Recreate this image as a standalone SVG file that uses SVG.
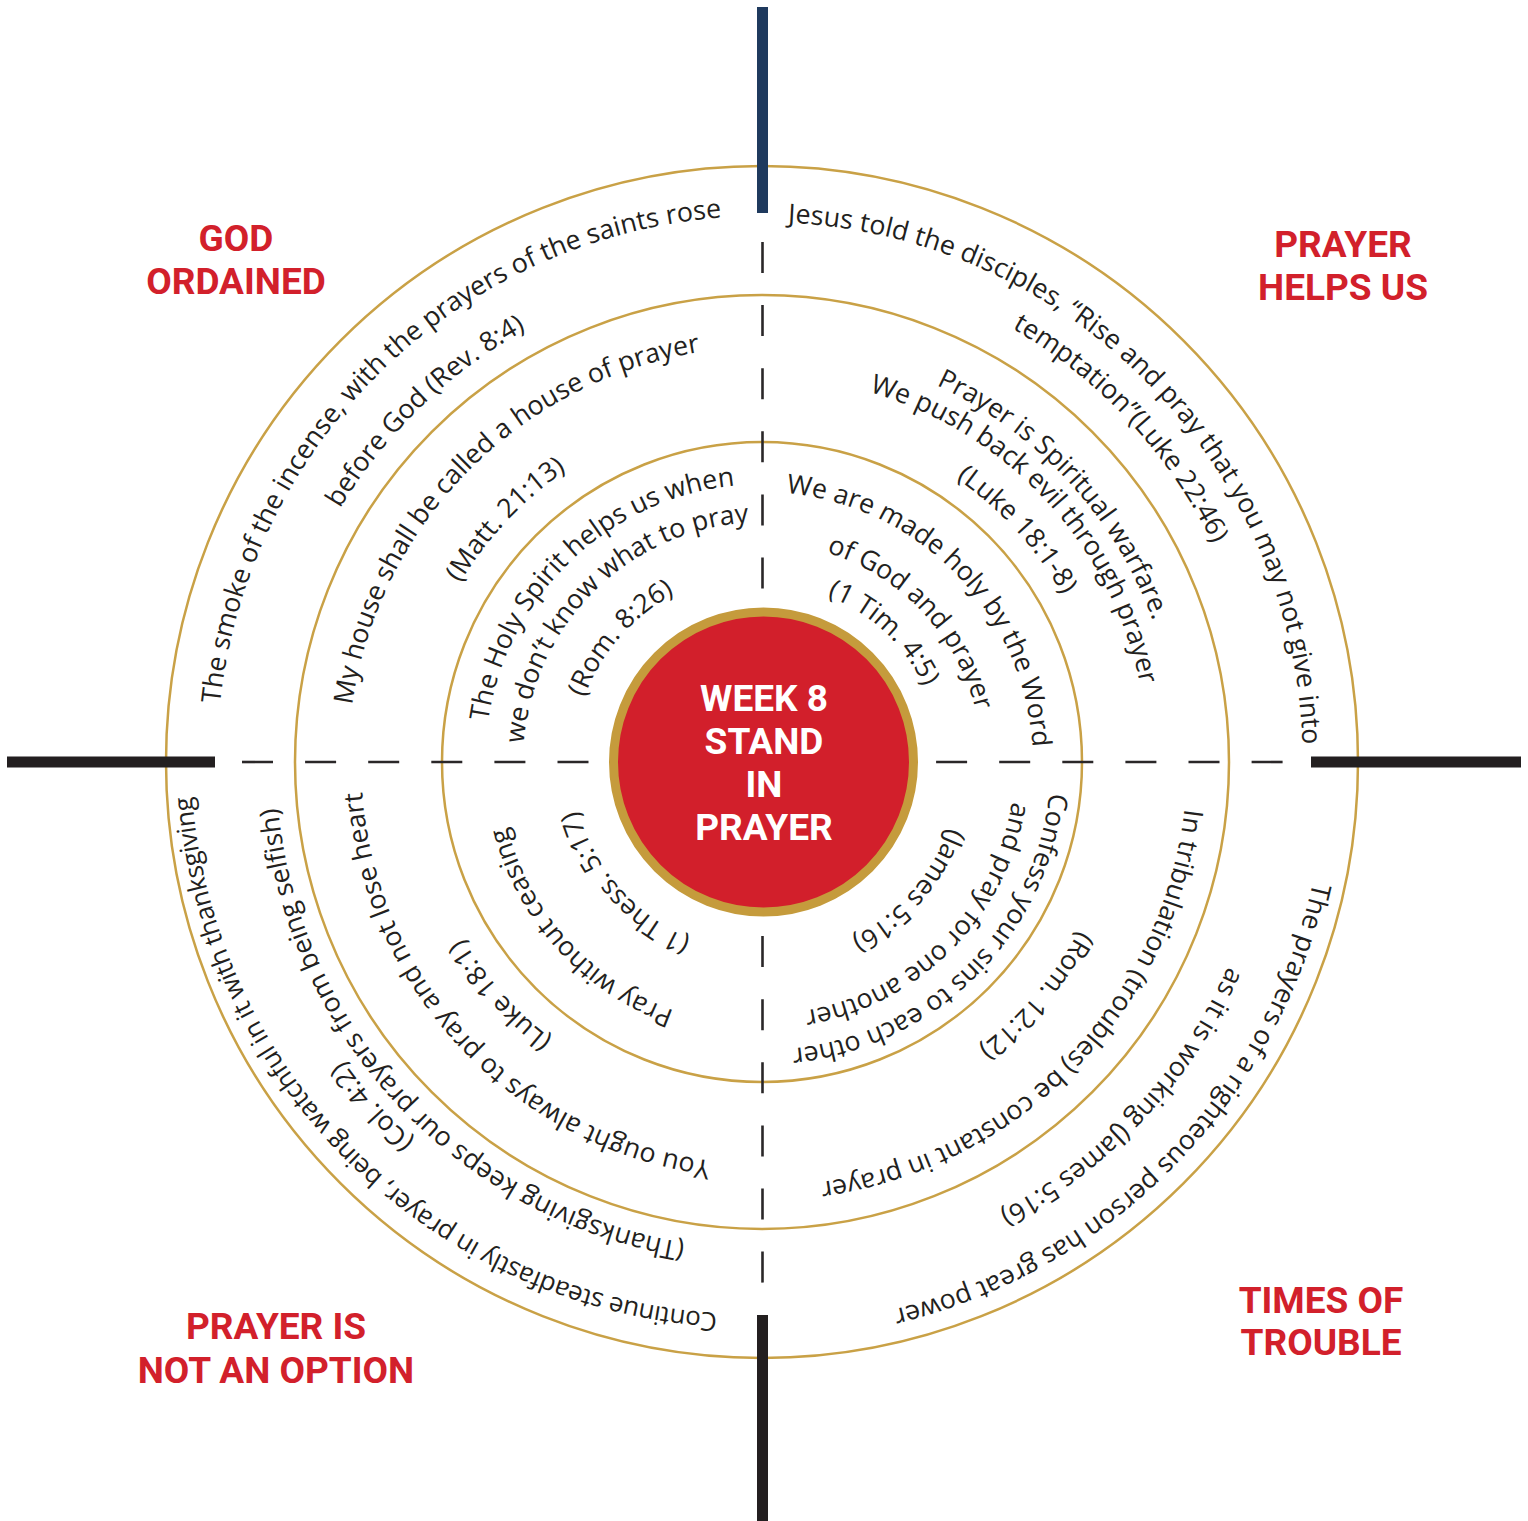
<svg xmlns="http://www.w3.org/2000/svg" width="1528" height="1521" viewBox="0 0 1528 1521">
<style>
.t{font-family:"Open Sans","Liberation Sans",sans-serif;font-size:26.8px;font-weight:500;fill:#231f20;text-anchor:middle}
.lbl{font-family:Roboto,"Liberation Sans",sans-serif;font-weight:700;font-size:37px;fill:#d2202b;text-anchor:middle}
.ctr{font-family:Roboto,"Liberation Sans",sans-serif;font-weight:700;font-size:37px;fill:#ffffff;text-anchor:middle}
.ring{fill:none;stroke:#c9a146;stroke-width:2.5}
.bar{stroke:#231f20;stroke-width:11}
.dash{stroke:#2a2728;stroke-width:2.6;stroke-dasharray:31 32.1}
</style>
<defs>
<path id="L1" d="M370.9,1142 A546,546 0 0 1 1155.1,382"/>
<path id="L2" d="M406.3,1105.2 A495,495 0 0 1 1119.7,418.8"/>
<path id="L3" d="M469.5,1059.6 A418,418 0 0 1 1056.5,464.4"/>
<path id="L4" d="M518.9,1021.1 A356,356 0 0 1 1007.1,502.9"/>
<path id="L5" d="M562,954.1 A278,278 0 0 1 964,569.9"/>
<path id="L6" d="M591.8,930.2 A240,240 0 0 1 934.2,593.8"/>
<path id="L7" d="M638.3,905.4 A190,190 0 0 1 887.7,618.6"/>
<path id="R1" d="M383.8,377.5 A540,540 0 0 1 1142.2,1146.5"/>
<path id="R2" d="M420,394.1 A503,503 0 0 1 1106,1129.9"/>
<path id="R3" d="M480.1,454.3 A418,418 0 0 1 1045.9,1069.7"/>
<path id="R4" d="M501.4,479.5 A385,385 0 0 1 1024.6,1044.5"/>
<path id="R5" d="M531.7,508.7 A343,343 0 0 1 994.3,1015.3"/>
<path id="R6" d="M573.7,566.7 A272,272 0 0 1 952.3,957.3"/>
<path id="R7" d="M611.2,601.4 A221,221 0 0 1 914.8,922.6"/>
<path id="R8" d="M633,640.4 A178,178 0 0 1 893,883.6"/>
<path id="C1" d="M1160.4,357.6 A567,567 0 0 1 365.6,1166.4"/>
<path id="C2" d="M1109.5,390.5 A508,508 0 0 1 416.5,1133.5"/>
<path id="C3" d="M1060.5,457.1 A426,426 0 0 1 465.5,1066.9"/>
<path id="C4" d="M1000,484.5 A365,365 0 0 1 526,1039.5"/>
<path id="C5" d="M967.4,559.1 A288,288 0 0 1 558.6,964.9"/>
<path id="C6" d="M940.6,583.2 A252,252 0 0 1 585.4,940.8"/>
<path id="C7" d="M893.3,614.2 A197,197 0 0 1 632.7,909.8"/>
<path id="B1" d="M1154,1145.9 A562.5,562.5 0 0 1 351.6,357.3"/>
<path id="B2" d="M1107.5,1152.8 A521,521 0 0 1 418.5,371.2"/>
<path id="B3" d="M1095.8,1117.6 A487,487 0 0 1 430.2,406.4"/>
<path id="B4" d="M1039.2,1054.1 A402,402 0 0 1 486.8,469.9"/>
<path id="B5" d="M996.7,1025.2 A352,352 0 0 1 529.3,498.8"/>
<path id="B6" d="M940.7,957.3 A264,264 0 0 1 585.3,566.7"/>
<path id="B7" d="M891.4,908.7 A195,195 0 0 1 634.6,615.3"/>
</defs>
<rect width="1528" height="1521" fill="#ffffff"/>
<g id="rings">
<circle class="ring" cx="762" cy="762" r="596"/>
<circle class="ring" cx="762" cy="762" r="467"/>
<circle class="ring" cx="762" cy="762" r="320"/>
</g>
<g id="connectors">
<line class="dash" x1="762.5" y1="242" x2="762.5" y2="1284"/>
<line class="dash" x1="242" y1="762" x2="1284" y2="762"/>
<line class="bar" style="stroke:#1f3a5e" x1="762.5" y1="7" x2="762.5" y2="213"/>
<line class="bar" x1="762.5" y1="1315" x2="762.5" y2="1521"/>
<line class="bar" x1="7" y1="762" x2="215" y2="762"/>
<line class="bar" x1="1311" y1="762" x2="1521" y2="762"/>
</g>
<g id="center">
<circle cx="763.5" cy="762" r="150" fill="#d21f2b" stroke="#c59b3c" stroke-width="9"/>
<text class="ctr" x="764" y="711">WEEK 8</text>
<text class="ctr" x="764" y="754">STAND</text>
<text class="ctr" x="764" y="797">IN</text>
<text class="ctr" x="764" y="840">PRAYER</text>
</g>
<g id="god-ordained">
<text class="lbl" x="236" y="251">GOD</text>
<text class="lbl" x="236" y="294">ORDAINED</text>
<text class="t"><textPath href="#L1" startOffset="50%">The smoke of the incense, with the prayers of the saints rose</textPath></text>
<text class="t"><textPath href="#L2" startOffset="50%">before God (Rev. 8:4)</textPath></text>
<text class="t"><textPath href="#L3" startOffset="50%">My house shall be called a house of prayer</textPath></text>
<text class="t"><textPath href="#L4" startOffset="50%">(Matt. 21:13)</textPath></text>
<text class="t"><textPath href="#L5" startOffset="50%">The Holy Spirit helps us when</textPath></text>
<text class="t"><textPath href="#L6" startOffset="50%">we don’t know what to pray</textPath></text>
<text class="t"><textPath href="#L7" startOffset="50%">(Rom. 8:26)</textPath></text>
</g>
<g id="prayer-helps-us">
<text class="lbl" x="1343" y="257">PRAYER</text>
<text class="lbl" x="1343" y="300">HELPS US</text>
<text class="t"><textPath href="#R1" startOffset="50%">Jesus told the disciples, “Rise and pray that you may not give into</textPath></text>
<text class="t"><textPath href="#R2" startOffset="50%">temptation”(Luke 22:46)</textPath></text>
<text class="t"><textPath href="#R3" startOffset="50%">Prayer is Spiritual warfare.</textPath></text>
<text class="t"><textPath href="#R4" startOffset="50%">We push back evil through prayer</textPath></text>
<text class="t"><textPath href="#R5" startOffset="50%">(Luke 18:1-8)</textPath></text>
<text class="t"><textPath href="#R6" startOffset="50%">We are made holy by the Word</textPath></text>
<text class="t"><textPath href="#R7" startOffset="50%">of God and prayer</textPath></text>
<text class="t"><textPath href="#R8" startOffset="50%">(1 Tim. 4:5)</textPath></text>
</g>
<g id="times-of-trouble">
<text class="lbl" x="1321" y="1313">TIMES OF</text>
<text class="lbl" x="1321" y="1355">TROUBLE</text>
<text class="t"><textPath href="#C1" startOffset="50%">The prayers of a righteous person has great power</textPath></text>
<text class="t"><textPath href="#C2" startOffset="50%">as it is working (James 5:16)</textPath></text>
<text class="t"><textPath href="#C3" startOffset="50%">In tribulation (troubles) be constant in prayer</textPath></text>
<text class="t"><textPath href="#C4" startOffset="50%">(Rom. 12:12)</textPath></text>
<text class="t"><textPath href="#C5" startOffset="50%">Confess your sins to each other</textPath></text>
<text class="t"><textPath href="#C6" startOffset="50%">and pray for one another</textPath></text>
<text class="t"><textPath href="#C7" startOffset="50%">(James 5:16)</textPath></text>
</g>
<g id="prayer-is-not-an-option">
<text class="lbl" x="276" y="1339">PRAYER IS</text>
<text class="lbl" x="276" y="1383">NOT AN OPTION</text>
<text class="t" style="font-size:26px;letter-spacing:-0.3px"><textPath href="#B1" startOffset="50%">Continue steadfastly in prayer, being watchful in it with thanksgiving</textPath></text>
<text class="t"><textPath href="#B2" startOffset="50%">(Col. 4:2)</textPath></text>
<text class="t"><textPath href="#B3" startOffset="50%">(Thanksgiving keeps our prayers from being selfish)</textPath></text>
<text class="t"><textPath href="#B4" startOffset="50%">You ought always to pray and not lose heart</textPath></text>
<text class="t"><textPath href="#B5" startOffset="50%">(Luke 18:1)</textPath></text>
<text class="t"><textPath href="#B6" startOffset="50%">Pray without ceasing</textPath></text>
<text class="t"><textPath href="#B7" startOffset="50%">(1 Thess. 5:17)</textPath></text>
</g>
</svg>
